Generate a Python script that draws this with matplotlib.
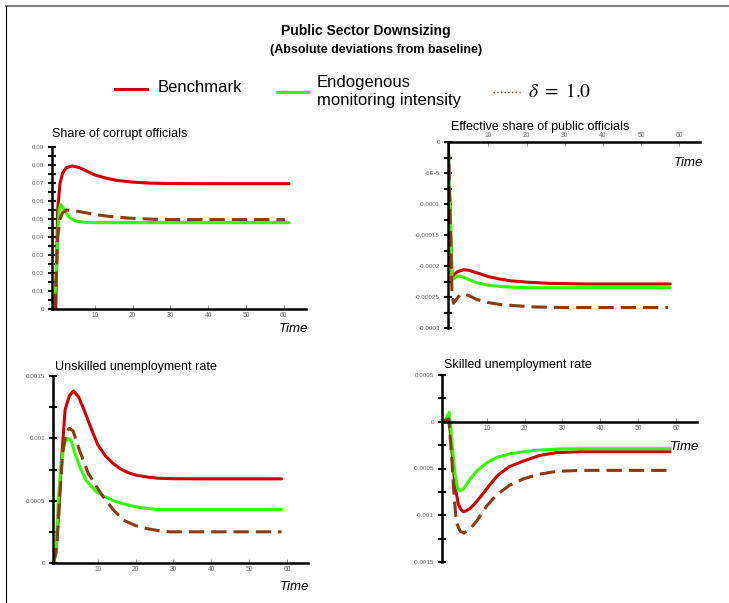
import matplotlib
matplotlib.use("Agg")
import matplotlib.pyplot as plt
from matplotlib.lines import Line2D
from matplotlib.ticker import MultipleLocator

plt.rcParams['font.family'] = ['Liberation Sans', 'DejaVu Sans']
plt.rcParams['mathtext.fontset'] = 'stix'

W, H = 729, 603

RED = '#cc0000'
GREEN = '#33ff00'
BROWN = '#8b3a0f'

# --- Share of corrupt officials
corrupt_red_t = [-0.3, 0.2, 0.8, 1.5, 2.5, 4, 6, 8, 10, 13, 16, 20, 25, 30, 40, 50, 61.4]
corrupt_red_v = [0, 0.055, 0.0695, 0.0755, 0.0785, 0.0795, 0.0785, 0.0765, 0.0745, 0.0727,
                 0.0714, 0.0705, 0.0699, 0.0697, 0.0696, 0.0696, 0.0696]
corrupt_green_t = [-1.0, -0.3, 0.2, 0.6, 1.0, 1.6, 2.5, 3.5, 5, 7, 10, 20, 61.4]
corrupt_green_v = [0, 0.012, 0.04, 0.0555, 0.058, 0.0565, 0.053, 0.0505, 0.0488, 0.0482,
                   0.048, 0.048, 0.048]
corrupt_brown_t = [-0.5, 0.2, 0.8, 1.5, 2.6, 4, 6, 8, 10.5, 14, 19, 25, 30, 40, 60.3]
corrupt_brown_v = [0, 0.04, 0.05, 0.0535, 0.055, 0.0548, 0.0541, 0.0533, 0.0524, 0.0514,
                   0.0505, 0.0499, 0.0497, 0.0497, 0.0497]

# --- Effective share of public officials
public_red_t = [-0.5, 0.0, 0.5, 1.2, 2, 3.5, 5, 7, 10, 13, 16, 20, 26, 35, 57.6]
public_red_v = [0, -0.00011, -0.000218, -0.000213, -0.000209, -0.000206, -0.000207, -0.000211,
                -0.000217, -0.000221, -0.000224, -0.000226, -0.000228, -0.000229, -0.000229]
public_green_t = [-0.5, 0.0, 0.5, 1.0, 2.0, 3.5, 5, 7, 10, 13, 16, 20, 30, 57.6]
public_green_v = [0, -0.00011, -0.000222, -0.00022, -0.000216, -0.000218, -0.000222, -0.000227,
                  -0.000231, -0.000233, -0.000234, -0.000235, -0.000235, -0.000235]
public_brown_t = [-0.5, 0.0, 0.5, 0.9, 1.5, 2.5, 3.5, 5, 7, 10, 13, 17, 22, 30, 57]
public_brown_v = [0, -0.00012, -0.000245, -0.00026, -0.000255, -0.000247, -0.000245, -0.000248,
                  -0.000254, -0.000259, -0.000262, -0.000264, -0.000266, -0.000267, -0.000267]

# --- Unskilled unemployment rate
unsk_red_t = [-1.7, -1.0, -0.3, 0.5, 1.4, 2.5, 3.6, 5, 6.5, 8, 10, 12, 14, 16, 18, 20, 23, 26,
              30, 40, 58.5]
unsk_red_v = [0, 0.00008, 0.0004, 0.00085, 0.00123, 0.00134, 0.00138, 0.00133, 0.00122, 0.00110,
              0.00095, 0.00086, 0.00080, 0.000755, 0.000725, 0.000705, 0.00069, 0.00068,
              0.000676, 0.000675, 0.000675]
unsk_green_t = [-1.7, -1.0, -0.4, 0.4, 1.3, 2.2, 3, 4, 5.3, 7, 9.7, 12, 15, 18, 21, 25.5, 30, 58.5]
unsk_green_v = [0, 0.0001, 0.0005, 0.00082, 0.00097, 0.001, 0.00098, 0.00088, 0.00077, 0.00066,
                0.00057, 0.00053, 0.00049, 0.000465, 0.000445, 0.00043, 0.00043, 0.00043]
unsk_brown_t = [-1.7, -0.8, 0, 0.8, 1.7, 2.5, 3.5, 5, 7.5, 9.5, 11.5, 14, 16.8, 20, 23, 26, 29,
                40, 58.5]
unsk_brown_v = [0, 0.00013, 0.00055, 0.0009, 0.00105, 0.00108, 0.00106, 0.00092, 0.00072,
                0.00062, 0.00053, 0.00043, 0.000343, 0.0003, 0.000276, 0.00026, 0.00025,
                0.00025, 0.00025]

# --- Skilled unemployment rate
sk_red_t = [-1.5, -0.7, 0.0, 0.8, 1.6, 2.5, 3.2, 3.8, 4.5, 5.5, 6.5, 7.4, 9, 10.9, 13, 16, 19.7,
            24, 28.5, 35, 58.4]
sk_red_v = [0, 0.00002, 0.00005, -0.0003, -0.00068, -0.00088, -0.00094, -0.00096, -0.000955,
            -0.00093, -0.00089, -0.00085, -0.00077, -0.00067, -0.00057, -0.00048, -0.00042,
            -0.00036, -0.00033, -0.00032, -0.00032]
sk_green_t = [-1.7, -0.8, 0.1, 0.8, 1.6, 2.3, 3, 4, 5.5, 7.4, 10, 12.7, 16, 19.7, 24, 28.5, 35,
              58.4]
sk_green_v = [0, 0.00002, 0.0001, -0.0002, -0.00055, -0.00071, -0.00074, -0.00071, -0.00062,
              -0.000525, -0.00044, -0.00038, -0.000345, -0.00032, -0.000302, -0.000293,
              -0.00029, -0.00029]
sk_brown_t = [-1.5, -0.7, 0.0, 0.8, 1.4, 2.0, 3.0, 4.0, 5.5, 7.4, 10, 12.7, 16, 19.7, 24, 28.5,
              35, 58.4]
sk_brown_v = [0, 0.00002, 0.00003, -0.0004, -0.0008, -0.00108, -0.00117, -0.00119, -0.00115,
              -0.00106, -0.0009, -0.00078, -0.00068, -0.00061, -0.00056, -0.00053, -0.00052,
              -0.00052]

x_ticks = [10, 20, 30, 40, 50, 60]


def box(left, top, right, bottom):
    return [left / W, 1 - bottom / H, (right - left) / W, (bottom - top) / H]


def fmt_tick(v):
    if v == 0:
        return '0'
    if abs(v + 5e-5) < 1e-12:
        return '-5E-5'
    return ('%.5f' % v).rstrip('0')


def style_axes(ax, yticks, yminor, xpos):
    for s in ax.spines.values():
        s.set_visible(False)
    ax.spines['left'].set_visible(True)
    ax.spines['left'].set_linewidth(1.8)
    ax.spines['left'].set_color('black')
    xs = ax.spines[xpos]
    xs.set_visible(True)
    xs.set_linewidth(1.8)
    xs.set_color('black')
    ax.set_yticks(yticks)
    ax.set_yticklabels([fmt_tick(v) for v in yticks])
    ax.yaxis.set_minor_locator(MultipleLocator(yminor))
    ax.tick_params(axis='y', which='both', direction='inout', length=5.5, width=1.5,
                   colors='black', labelsize=4.5, labelcolor='#666666', pad=3)
    ax.set_xticks(x_ticks)
    ax.tick_params(axis='x', which='major', direction='in', length=3, width=0.6,
                   color='#888888', labelsize=4.8, labelcolor='#666666', pad=2)
    ax.patch.set_alpha(0)


def draw(ax, series):
    for t, v, color, dashed in series:
        if dashed:
            ax.plot(t, v, color=color, lw=2.2, dashes=(5, 2.3), solid_capstyle='butt')
        else:
            ax.plot(t, v, color=color, lw=2.2, solid_capstyle='round')


fig = plt.figure(figsize=(W / 100, H / 100), dpi=100)

# panel 1
ax1 = fig.add_axes(box(52, 147, 306, 309))
draw(ax1, [(corrupt_red_t, corrupt_red_v, RED, False),
           (corrupt_green_t, corrupt_green_v, GREEN, False),
           (corrupt_brown_t, corrupt_brown_v, BROWN, True)])
ax1.set_xlim(-1.3, 65.9)
ax1.set_ylim(0, 0.09)
style_axes(ax1, [0, 0.01, 0.02, 0.03, 0.04, 0.05, 0.06, 0.07, 0.08, 0.09], 0.005, 'bottom')
ax1.set_yticklabels(['0', '0.01', '0.02', '0.03', '0.04', '0.05', '0.06', '0.07', '0.08', '0.09'])

# panel 2
ax2 = fig.add_axes(box(448, 142, 700, 328))
draw(ax2, [(public_red_t, public_red_v, RED, False),
           (public_green_t, public_green_v, GREEN, False),
           (public_brown_t, public_brown_v, BROWN, True)])
ax2.set_xlim(-0.55, 65.4)
ax2.set_ylim(-0.0003, 0)
style_axes(ax2, [0, -0.00005, -0.0001, -0.00015, -0.0002, -0.00025, -0.0003], 0.000025, 'top')
ax2.xaxis.tick_top()
ax2.tick_params(axis='x', which='major', direction='in', length=3, width=0.6,
                color='#888888', labelsize=4.8, labelcolor='#666666', pad=2)

# panel 3
ax3 = fig.add_axes(box(53, 376, 308, 563))
draw(ax3, [(unsk_red_t, unsk_red_v, RED, False),
           (unsk_green_t, unsk_green_v, GREEN, False),
           (unsk_brown_t, unsk_brown_v, BROWN, True)])
ax3.set_xlim(-1.8, 65.5)
ax3.set_ylim(0, 0.0015)
style_axes(ax3, [0, 0.0005, 0.001, 0.0015], 0.00025, 'bottom')

# panel 4
ax4 = fig.add_axes(box(442, 375, 697, 562))
draw(ax4, [(sk_red_t, sk_red_v, RED, False),
           (sk_green_t, sk_green_v, GREEN, False),
           (sk_brown_t, sk_brown_v, BROWN, True)])
ax4.set_xlim(-1.8, 65.5)
ax4.set_ylim(-0.0015, 0.0005)
style_axes(ax4, [0.0005, 0, -0.0005, -0.001, -0.0015], 0.00025, 'bottom')
ax4.spines['bottom'].set_position(('data', 0))


def ftext(x, y, s, **kw):
    fig.text(x / W, 1 - y / H, s, **kw)


# panel titles and axis names
ftext(52, 134, 'Share of corrupt officials', fontsize=9, va='center')
ftext(451, 127, 'Effective share of public officials', fontsize=9, va='center')
ftext(55, 367, 'Unskilled unemployment rate', fontsize=9, va='center')
ftext(444, 365, 'Skilled unemployment rate', fontsize=9, va='center')
ftext(308, 329, 'Time', fontsize=9.5, style='italic', ha='right', va='center')
ftext(703, 163, 'Time', fontsize=9.5, style='italic', ha='right', va='center')
ftext(309, 587, 'Time', fontsize=9.5, style='italic', ha='right', va='center')
ftext(699, 447, 'Time', fontsize=9.5, style='italic', ha='right', va='center')

# titles
ftext(366, 31, 'Public Sector Downsizing', fontsize=10, fontweight='bold', ha='center', va='center')
ftext(376, 50, '(Absolute deviations from baseline)', fontsize=9, fontweight='bold',
      ha='center', va='center')

# legend
fig.add_artist(Line2D([115 / W, 147 / W], [1 - 89 / H] * 2, color=RED, lw=2.2))
ftext(158, 88, 'Benchmark', fontsize=12, va='center')
fig.add_artist(Line2D([277 / W, 308 / W], [1 - 92 / H] * 2, color=GREEN, lw=2.2))
ftext(317, 91, 'Endogenous\nmonitoring intensity', fontsize=12, va='center', linespacing=1.25)
fig.add_artist(Line2D([493 / W, 520 / W], [1 - 92 / H] * 2, color=BROWN, lw=1, ls=':'))
ftext(528, 92, r'$\delta\ =\ 1.0$', fontsize=14, va='center')

# frame lines
fig.add_artist(Line2D([6 / W, 1], [1 - 6 / H] * 2, color='#808080', lw=1.5))
fig.add_artist(Line2D([6 / W, 6 / W], [1 - 6 / H, 0], color='black', lw=0.8))

fig.savefig('out.png', dpi=100)
